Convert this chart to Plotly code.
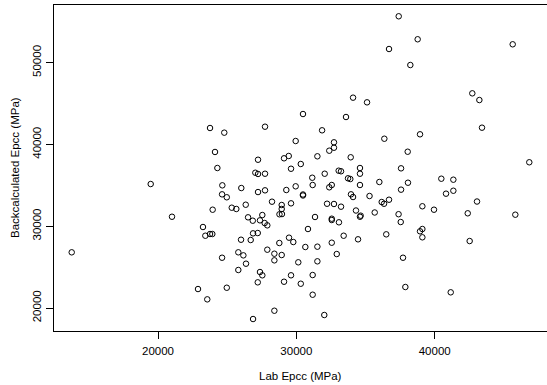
import plotly.graph_objects as go

# Lab Epcc (MPa)
lab_epcc = [
    13760, 19470, 21010, 23760, 24790, 27735, 24120, 27230, 24290, 27035,
    27230, 27735, 24650, 26020, 24630, 24970, 27230, 27735, 23950, 25330,
    25660, 26340, 28240, 34100, 35110, 30480, 33590, 31860, 29950, 32720,
    32720, 32380, 29110, 29450, 31520, 33930, 30320, 29615, 34600, 34600,
    33060, 33230, 32050, 31150, 33735, 33900, 29950, 31180, 32380, 32560,
    34600, 29275, 30480, 30480, 33950, 34100, 35290, 28940, 28940, 29615,
    32220, 32720, 33230, 34310, 36360, 38940, 38050, 37570, 36000, 38070,
    40480, 41350, 37570, 40820, 41350, 36170, 36340, 36700, 39110, 39950,
    35665, 37390, 37400, 38770, 36700, 45640, 38240, 42720, 43230, 43420,
    46840, 43060, 26510, 26850, 27540, 27370, 27710, 27900, 23250, 23420,
    23760, 23925, 26870, 27210, 26000, 26700, 27900, 24630, 25805, 26170,
    26360, 25805, 27370, 27540, 27210, 22890, 24970, 23560, 26870, 28780,
    28960, 31350, 32560, 32560, 33080, 34600, 34650, 30840, 29470, 29780,
    28770, 30650, 31520, 32560, 33420, 34460, 28410, 28410, 28940, 32920,
    30140, 31520, 29615, 29110, 30320, 31180, 31180, 28410, 32020, 42390,
    45830, 37545, 36500, 38940, 39110, 39110, 42530, 37710, 37880, 41160,
]

# Backcalculated Epcc (MPa)
backcalc_epcc = [
    26810, 35160, 31160, 42010, 41440, 42170, 39080, 38130, 37120, 36540,
    36390, 36420, 35000, 34670, 33900, 33540, 34180, 34390, 32020, 32265,
    32110, 32630, 33000, 45720, 45150, 43720, 43355, 41730, 40420, 40260,
    39600, 39235, 38305, 38590, 38550, 38430, 37610, 37030, 37120, 36420,
    36790, 36720, 36420, 35930, 35860, 35770, 34880, 35040, 34760, 35040,
    35040, 34430, 33880, 33760, 33900, 33570, 33695, 32595, 32110, 32800,
    32750, 32720, 32390, 31920, 40700, 41240, 39110, 37080, 35410, 35320,
    35810, 35690, 34470, 33980, 34340, 32960, 32750, 33240, 32440, 32020,
    31680, 31470, 55670, 52860, 51670, 52245, 49710, 46250, 45430, 42050,
    37820, 33020, 31090, 30675, 31370, 30720, 30390, 30110, 29905, 28840,
    29050, 29050, 29130, 29170, 28350, 28315, 27130, 26150, 26810, 26440,
    25420, 24650, 24400, 24000, 23140, 22320, 22480, 21060, 18655, 31460,
    31490, 31130, 30920, 30760, 30480, 31160, 31290, 29660, 28600, 28070,
    27950, 27460, 27500, 27985, 28840, 28400, 26640, 25830, 26480, 26600,
    25590, 25710, 24000, 23215, 22970, 24035, 21625, 19670, 19145, 31580,
    31410, 30515, 29010, 29380, 29660, 28645, 28190, 26150, 22570, 21920,
]

x_ticks = [20000, 30000, 40000]
y_ticks = [20000, 30000, 40000, 50000]
x_title = "Lab Epcc (MPa)"
y_title = "Backcalculated Epcc (MPa)"

FONT = "Liberation Sans, Arial, Helvetica, sans-serif"

fig = go.Figure()
fig.add_trace(go.Scatter(
    x=lab_epcc, y=backcalc_epcc, mode="markers",
    marker=dict(symbol="circle-open", size=5.5, color="black",
                line=dict(color="black", width=1)),
    hoverinfo="skip", showlegend=False,
))

axis_common = dict(
    showline=True, linecolor="black", linewidth=1, mirror=True,
    showgrid=False, zeroline=False,
    ticks="outside", ticklen=7, tickwidth=1, tickcolor="black",
    tickfont=dict(family=FONT, size=11.5, color="black"),
)

fig.update_layout(
    width=547, height=385,
    margin=dict(l=54, r=0, t=5, b=54),
    paper_bgcolor="white", plot_bgcolor="white",
    font=dict(family=FONT, size=11.5, color="black"),
    xaxis=dict(range=[12480, 48120], tickvals=x_ticks,
               ticktext=[str(v) for v in x_ticks], ticklabelstandoff=2,
               **axis_common),
    yaxis=dict(range=[17190, 57050], tickvals=y_ticks,
               ticktext=[str(v) for v in y_ticks], tickangle=-90,
               **axis_common),
    annotations=[
        dict(text=x_title, x=0.5, y=0, xref="paper", yref="paper",
             xanchor="center", yanchor="middle", yshift=-44.7,
             showarrow=False, font=dict(family=FONT, size=11.5, color="black")),
        dict(text=y_title, x=0, y=0.5, xref="paper", yref="paper",
             xanchor="center", yanchor="middle", xshift=-39, textangle=-90,
             showarrow=False, font=dict(family=FONT, size=11.5, color="black")),
    ],
)

fig.write_html("out.html")
